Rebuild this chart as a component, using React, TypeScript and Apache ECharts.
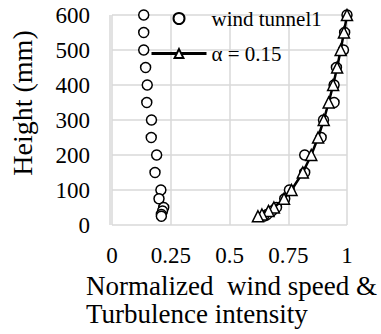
import React, { useEffect, useRef } from "react";
import * as echarts from "echarts";

const heights = [600, 550, 500, 450, 400, 350, 300, 250, 200, 150, 100, 75, 50, 40, 30, 25];
const tunnelSpeed = [1.0, 0.99, 0.985, 0.955, 0.945, 0.945, 0.9, 0.89, 0.82, 0.82, 0.755, 0.735, 0.7, 0.68, 0.66, 0.645];
const tunnelTI = [0.135, 0.135, 0.135, 0.143, 0.15, 0.148, 0.168, 0.167, 0.19, 0.183, 0.208, 0.2, 0.22, 0.215, 0.21, 0.21];
const powerLaw = [1.0, 0.987, 0.973, 0.958, 0.941, 0.922, 0.901, 0.877, 0.848, 0.812, 0.764, 0.732, 0.689, 0.666, 0.638, 0.621];
const seriesNames = ["wind tunnel1", "α = 0.15"];
const xNameLines = ["Normalized  wind speed &", "Turbulence intensity"];
const yName = "Height (mm)";

const FONT = "Liberation Serif";

export default function App() {
  const ref = useRef<HTMLDivElement>(null);
  useEffect(() => {
    if (!ref.current) return;
    const chart = echarts.init(ref.current, null, { renderer: "svg" });
    const tunnelData = [
      ...tunnelTI.map((v, i) => [v, heights[i]]),
      ...tunnelSpeed.map((v, i) => [v, heights[i]]),
    ];
    const lawData = powerLaw.map((v, i) => [v, heights[i]]);
    chart.setOption({
      animation: false,
      backgroundColor: "#fff",
      grid: { left: 110, right: 34, top: 15, bottom: 109, containLabel: false },
      legend: {
        orient: "vertical",
        left: 145,
        top: 3,
        itemWidth: 55,
        itemHeight: 11,
        itemGap: 14,
        data: seriesNames,
        lineStyle: { width: 3 },
        textStyle: { fontFamily: FONT, fontSize: 21, color: "#000" },
      },
      xAxis: {
        type: "value",
        min: 0,
        max: 1,
        interval: 0.25,
        axisLine: { show: false },
        axisTick: { show: false },
        splitLine: { show: true, lineStyle: { color: "#d9d9d9", width: 1.5 } },
        axisLabel: { fontFamily: FONT, fontSize: 23, color: "#000", margin: 19 },
      },
      yAxis: {
        type: "value",
        min: 0,
        max: 600,
        interval: 100,
        name: yName,
        nameLocation: "middle",
        nameGap: 76,
        nameTextStyle: { fontFamily: FONT, fontSize: 28, color: "#000", padding: [0, 0, 0, 34] },
        axisLine: { show: false },
        axisTick: { show: false },
        splitLine: { show: true, lineStyle: { color: "#d9d9d9", width: 1.5 } },
        axisLabel: { fontFamily: FONT, fontSize: 23, color: "#000", margin: 22 },
      },
      graphic: [
        {
          type: "line",
          shape: { x1: 110, y1: 15, x2: 110, y2: 225 },
          style: { stroke: "#d9d9d9", lineWidth: 1.5 },
          z: 0,
        },
        {
          type: "text",
          left: 86,
          top: 272,
          style: { text: xNameLines[0], fontFamily: FONT, fontSize: 27, fill: "#000" },
        },
        {
          type: "text",
          left: 86,
          top: 300,
          style: { text: xNameLines[1], fontFamily: FONT, fontSize: 27, fill: "#000" },
        },
      ],
      series: [
        {
          name: seriesNames[0],
          type: "scatter",
          symbol: "circle",
          symbolSize: 10,
          data: tunnelData,
          itemStyle: { color: "#fff", borderColor: "#000", borderWidth: 1.5, opacity: 1 },
          z: 2,
        },
        {
          name: seriesNames[1],
          type: "line",
          symbol: "triangle",
          symbolSize: 11,
          showAllSymbol: true,
          data: lawData,
          lineStyle: { color: "#000", width: 2.5 },
          itemStyle: { color: "#fff", borderColor: "#000", borderWidth: 1.5 },
          z: 3,
        },
      ],
    });
    return () => chart.dispose();
  }, []);
  return <div ref={ref} style={{ width: 381, height: 334, position: "absolute", left: 0, top: 0 }} />;
}
